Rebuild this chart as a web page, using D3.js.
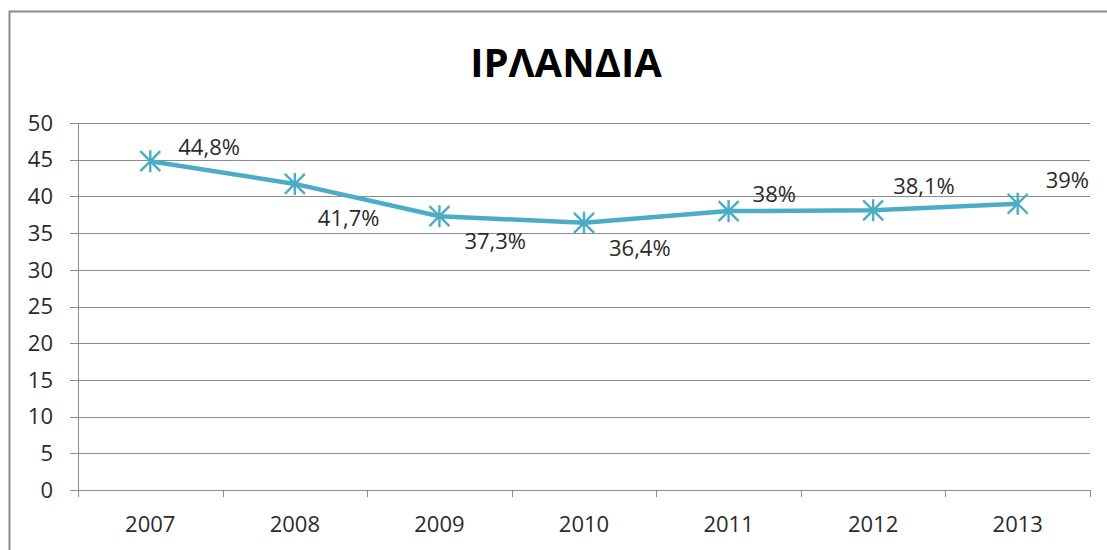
<!DOCTYPE html>
<html><head><meta charset="utf-8">
<script src="https://cdn.jsdelivr.net/npm/d3@7"></script>
<style>body{margin:0;background:#fff;} svg{display:block;}</style>
</head><body>
<svg id="c" width="1107" height="550"></svg>
<script>
const title = "ΙΡΛΑΝΔΙΑ";
const years = ["2007","2008","2009","2010","2011","2012","2013"];
const values = [44.8, 41.7, 37.3, 36.4, 38, 38.1, 39];
const labels = ["44,8%","41,7%","37,3%","36,4%","38%","38,1%","39%"];
const yTicks = [0,5,10,15,20,25,30,35,40,45,50];
// label placement (style)
const labelDx = [28, 23, 25, 25, 24, 20, 28];
const labelDy = [-14, 34, 25, 25, -17, -24, -23];

const svg = d3.select("#c");
const L = 78, R = 1090, T = 123, B = 490;
const font = "'Open Sans', sans-serif";
const grid = "#8c8c8c";
const txt = "#2a2a2a";
const fs = 22;

svg.append("rect").attr("x",9.5).attr("y",11.5).attr("width",1120).attr("height",560)
  .attr("fill","#fff").attr("stroke","#8a8a8a").attr("stroke-width",2);

svg.append("text").attr("x",566).attr("y",77).attr("text-anchor","middle")
  .attr("font-family",font).attr("font-weight","bold").attr("font-size",40)
  .attr("fill","#000").text(title);

const x = d3.scaleBand().domain(years).range([L,R]);
const y = d3.scaleLinear().domain([0,50]).range([B,T]);

// gridlines
svg.append("g").selectAll("line").data(yTicks).join("line")
  .attr("x1",L-8).attr("x2",R).attr("y1",d=>Math.round(y(d))+0.5).attr("y2",d=>Math.round(y(d))+0.5)
  .attr("stroke",grid).attr("stroke-width",1);

// y axis line
svg.append("line").attr("x1",L+0.5).attr("x2",L+0.5).attr("y1",T).attr("y2",B+6)
  .attr("stroke",grid);

// y labels
svg.append("g").selectAll("text").data(yTicks).join("text")
  .attr("x",53).attr("y",d=>y(d)).attr("dy","0.35em").attr("text-anchor","end")
  .attr("font-family",font).attr("font-size",fs).attr("fill",txt).text(d=>d);

// x tick marks at band boundaries
const bounds = years.map(d=>x(d)).concat([R]);
svg.append("g").selectAll("line").data(bounds).join("line")
  .attr("x1",d=>Math.round(d)+0.5).attr("x2",d=>Math.round(d)+0.5).attr("y1",B).attr("y2",B+7)
  .attr("stroke",grid);

// x labels
svg.append("g").selectAll("text").data(years).join("text")
  .attr("x",d=>x(d)+x.bandwidth()/2).attr("y",532).attr("text-anchor","middle")
  .attr("font-family",font).attr("font-size",fs).attr("fill",txt).text(d=>d);

const cx = (d,i)=>x(years[i])+x.bandwidth()/2;
const line = d3.line().x((d,i)=>cx(d,i)).y(d=>y(d));
svg.append("path").datum(values).attr("d",line).attr("fill","none")
  .attr("stroke","#4BACC6").attr("stroke-width",4.5).attr("stroke-linejoin","round");

// asterisk markers
const s = 10;
const mk = svg.append("g").selectAll("g").data(values).join("g")
  .attr("transform",(d,i)=>`translate(${cx(d,i)},${y(d)})`);
mk.append("path").attr("d",`M${-s},${-s}L${s},${s}M${-s},${s}L${s},${-s}M0,${-s*1.1}L0,${s*1.1}`)
  .attr("stroke","#4BACC6").attr("stroke-width",2.4).attr("fill","none");

// data labels
svg.append("g").selectAll("text").data(values).join("text")
  .attr("x",(d,i)=>cx(d,i)+labelDx[i]).attr("y",(d,i)=>y(d)+labelDy[i]).attr("dy","0.35em")
  .attr("font-family",font).attr("font-size",fs).attr("fill",txt).text((d,i)=>labels[i]);
</script>
</body></html>
